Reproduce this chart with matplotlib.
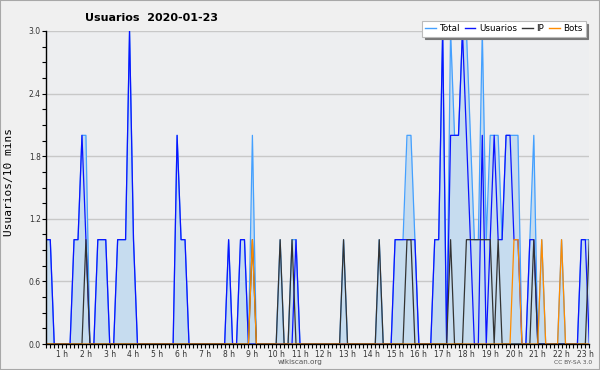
import matplotlib
matplotlib.use("Agg")
import matplotlib.pyplot as plt
from matplotlib.lines import Line2D
from matplotlib.patches import Rectangle

# -----------------------------------------
# Data (10 min bins)
# -----------------------------------------

usuarios = [
    1, 1, 0, 0, 0, 0,   0, 1, 1, 2, 1, 0,   0, 1, 1, 1, 0, 0,
    1, 1, 1, 3, 1, 0,   0, 0, 0, 0, 0, 0,   0, 0, 0, 2, 1, 1,
    0, 0, 0, 0, 0, 0,   0, 0, 0, 0, 1, 0,   0, 1, 1, 0, 0, 0,
    0, 0, 0, 0, 0, 0,   0, 0, 0, 1, 0, 0,   0, 0, 0, 0, 0, 0,
    0, 0, 0, 0, 0, 0,   0, 0, 0, 0, 0, 0,   0, 0, 0, 0, 1, 1,
    1, 1, 1, 1, 0, 0,   0, 0, 1, 1, 3, 0,   2, 2, 2, 3, 2, 1,
    0, 0, 2, 0, 1, 2,   1, 1, 2, 2, 1, 1,   0, 0, 1, 1, 0, 0,
    0, 0, 0, 0, 0, 0,   0, 0, 0, 1, 1, 0,
]

ip = [
    0, 0, 0, 0, 0, 0,   0, 0, 0, 0, 1, 0,   0, 0, 0, 0, 0, 0,
    0, 0, 0, 0, 0, 0,   0, 0, 0, 0, 0, 0,   0, 0, 0, 0, 0, 0,
    0, 0, 0, 0, 0, 0,   0, 0, 0, 0, 0, 0,   0, 0, 0, 0, 1, 0,
    0, 0, 0, 0, 0, 1,   0, 0, 1, 0, 0, 0,   0, 0, 0, 0, 0, 0,
    0, 0, 0, 1, 0, 0,   0, 0, 0, 0, 0, 0,   1, 0, 0, 0, 0, 0,
    0, 1, 1, 0, 0, 0,   0, 0, 0, 0, 0, 0,   1, 0, 0, 0, 1, 1,
    1, 1, 1, 1, 1, 0,   1, 0, 0, 0, 0, 0,   0, 0, 0, 1, 0, 0,
    0, 0, 0, 0, 0, 0,   0, 0, 0, 0, 0, 1,
]

bots = [
    0, 0, 0, 0, 0, 0,   0, 0, 0, 0, 0, 0,   0, 0, 0, 0, 0, 0,
    0, 0, 0, 0, 0, 0,   0, 0, 0, 0, 0, 0,   0, 0, 0, 0, 0, 0,
    0, 0, 0, 0, 0, 0,   0, 0, 0, 0, 0, 0,   0, 0, 0, 0, 1, 0,
    0, 0, 0, 0, 0, 0,   0, 0, 0, 0, 0, 0,   0, 0, 0, 0, 0, 0,
    0, 0, 0, 0, 0, 0,   0, 0, 0, 0, 0, 0,   0, 0, 0, 0, 0, 0,
    0, 0, 0, 0, 0, 0,   0, 0, 0, 0, 0, 0,   0, 0, 0, 0, 0, 0,
    0, 0, 0, 0, 0, 0,   0, 0, 0, 0, 1, 1,   0, 0, 0, 0, 0, 1,
    0, 0, 0, 0, 1, 0,   0, 0, 0, 0, 0, 0,
]

total = [
    1, 1, 0, 0, 0, 0,   0, 1, 1, 2, 2, 0,   0, 1, 1, 1, 0, 0,
    1, 1, 1, 3, 1, 0,   0, 0, 0, 0, 0, 0,   0, 0, 0, 2, 1, 1,
    0, 0, 0, 0, 0, 0,   0, 0, 0, 0, 1, 0,   0, 1, 1, 0, 2, 0,
    0, 0, 0, 0, 0, 1,   0, 0, 1, 1, 0, 0,   0, 0, 0, 0, 0, 0,
    0, 0, 0, 1, 0, 0,   0, 0, 0, 0, 0, 0,   1, 0, 0, 0, 1, 1,
    1, 2, 2, 1, 0, 0,   0, 0, 1, 1, 3, 0,   3, 2, 2, 3, 3, 2,
    1, 1, 3, 1, 2, 2,   2, 1, 2, 2, 2, 2,   0, 0, 1, 2, 0, 1,
    0, 0, 0, 0, 1, 0,   0, 0, 0, 1, 1, 1,
]

hours = list(range(1, 24))
hour_labels = [f"{h} h" for h in hours]
y_ticks = [0.0, 0.6, 1.2, 1.8, 2.4, 3.0]

x = list(range(len(total)))

# -----------------------------------------
# Figure
# -----------------------------------------

fig = plt.figure(figsize=(6, 3.7), dpi=100, facecolor="#f0f0f0")
fig.patches.append(Rectangle((0, 0), 1, 1, transform=fig.transFigure,
                             fill=False, edgecolor="#a8a8a8", linewidth=1.5))

ax = fig.add_axes([46.3 / 600, 1 - 344 / 370, 543 / 600, 313 / 370])
ax.set_facecolor("#edeef0")

ax.fill_between(x, total, color="#c6dcef", linewidth=0)
ax.plot(x, total, color="#44a0ff", linewidth=0.9)
ax.plot(x, usuarios, color="#0a14ff", linewidth=0.9)
ax.plot(x, ip, color="#333333", linewidth=0.9)
ax.plot(x, bots, color="#ff8c00", linewidth=0.9)

ax.set_xlim(0, len(total) - 1)
ax.set_ylim(0, 3.0)

ax.set_yticks(y_ticks)
ax.set_yticklabels([f"{v:.1f}" for v in y_ticks])
ax.set_yticks([i * 0.15 for i in range(21)], minor=True)
ax.yaxis.grid(True, color="#c8c8c8", linewidth=1)
ax.set_axisbelow(True)

ax.set_xticks([6 * h - 2 for h in hours])
ax.set_xticklabels(hour_labels)
ax.set_xticks(x, minor=True)

ax.tick_params(axis="both", which="both", direction="out", length=3,
               width=0.8, color="black", labelsize=5.5, labelcolor="#333333")
ax.tick_params(axis="x", pad=1)
ax.tick_params(axis="y", pad=1)

for side in ["top", "right"]:
    ax.spines[side].set_visible(False)
for side in ["left", "bottom"]:
    ax.spines[side].set_color("black")
    ax.spines[side].set_linewidth(1)

# -----------------------------------------
# Texts
# -----------------------------------------

fig.text(85 / 600, 1 - 18 / 370, "Usuarios  2020-01-23",
         fontsize=8, fontweight="bold", ha="left", va="center")

fig.text(9 / 600, 1 - 182 / 370, "Usuarios/10 mins", rotation=90,
         family="DejaVu Sans Mono", fontsize=8, ha="center", va="center")

fig.text(300 / 600, 1 - 362 / 370, "wikiscan.org", fontsize=5.2,
         color="#555555", ha="center", va="center")

fig.text(592 / 600, 1 - 363 / 370, "CC BY-SA 3.0", fontsize=4.3,
         color="#555555", ha="right", va="center")

# -----------------------------------------
# Legend
# -----------------------------------------

handles = [
    Line2D([], [], color="#44a0ff", linewidth=1.0),
    Line2D([], [], color="#0a14ff", linewidth=1.0),
    Line2D([], [], color="#333333", linewidth=1.0),
    Line2D([], [], color="#ff8c00", linewidth=1.0),
]

leg = fig.legend(handles, ["Total", "Usuarios", "IP", "Bots"],
                 loc="upper right", bbox_to_anchor=(590 / 600, 1 - 17 / 370),
                 ncol=4, fontsize=6.3, handlelength=1.2, handletextpad=0.4,
                 columnspacing=0.6, borderpad=0.35, fancybox=False,
                 edgecolor="#bbbbbb", framealpha=1,
                 shadow={"color": "#777777", "alpha": 1})
leg.get_frame().set_linewidth(0.8)

fig.savefig("out.png", dpi=100, facecolor=fig.get_facecolor())
